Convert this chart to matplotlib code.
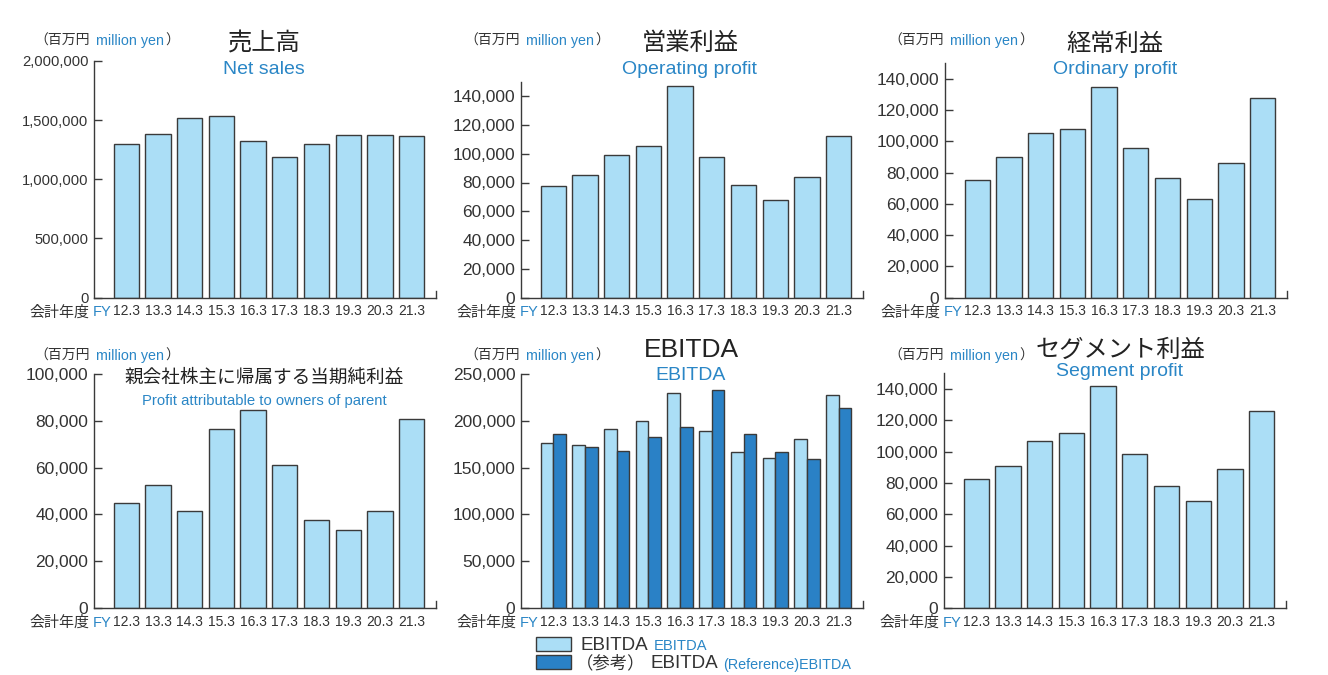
import matplotlib
matplotlib.use("Agg")
import matplotlib.pyplot as plt
from matplotlib.patches import Rectangle

W, H = 1328, 675

# ============================================================
# データ（百万円）
# ============================================================
fiscal_years = ["12.3", "13.3", "14.3", "15.3", "16.3", "17.3", "18.3", "19.3", "20.3", "21.3"]

net_sales = [1298000, 1383000, 1518000, 1532000, 1327000, 1189000, 1301000, 1377000, 1372000, 1369000]
operating_profit = [77300, 84900, 99300, 105100, 146700, 97400, 78000, 67800, 83800, 112500]
ordinary_profit = [75400, 90100, 105700, 108000, 134900, 96100, 76900, 62900, 85900, 127900]
net_income_parent = [45000, 52400, 41600, 76600, 84400, 61200, 37600, 33500, 41600, 80700]
ebitda = [176500, 174000, 191000, 199900, 229000, 189300, 166900, 160200, 180800, 227300]
ebitda_reference = [186100, 171500, 168000, 182200, 192800, 233000, 186100, 166600, 158700, 213800]
segment_profit = [82600, 90700, 106900, 111800, 141700, 98600, 78200, 68600, 88800, 125800]

net_sales_ticks = [0, 500000, 1000000, 1500000, 2000000]
profit_ticks = [0, 20000, 40000, 60000, 80000, 100000, 120000, 140000]
net_income_ticks = [0, 20000, 40000, 60000, 80000, 100000]
ebitda_ticks = [0, 50000, 100000, 150000, 200000, 250000]

# ============================================================
# スタイル
# ============================================================
JP = ["Noto Sans CJK JP", "DejaVu Sans"]
SANS = ["Liberation Sans", "DejaVu Sans"]

LIGHT = "#ABDEF6"
DARK = "#2A81C6"
BLUE = "#2A86C6"
INK = "#333333"
TITLE = "#222222"
EDGE = "#3A3A3A"


def fx(x):
    return x / W


def fy(y):
    return 1 - y / H


fig = plt.figure(figsize=(W / 100, H / 100), dpi=100)


def make_axes(left, right, zero, top, ymax, yticks, tick_size=12.5):
    ax = fig.add_axes([fx(left), fy(zero), (right - left) / W, (zero - top) / H])
    ax.patch.set_visible(False)
    ax.set_xlim(-1.02, 9.77)
    ax.set_ylim(0, ymax)
    ax.spines["top"].set_visible(False)
    ax.spines["right"].set_bounds(0, ymax * 7 / (zero - top))
    for s in ("left", "bottom", "right"):
        ax.spines[s].set_color(EDGE)
        ax.spines[s].set_linewidth(1.0)
    ax.set_yticks(yticks)
    ax.set_yticklabels([f"{v:,}" for v in yticks], fontfamily=SANS, fontsize=tick_size, color=INK)
    ax.tick_params(axis="y", direction="in", length=6, width=1.0, color=EDGE, pad=4)
    ax.set_xticks(range(len(fiscal_years)))
    ax.set_xticklabels(fiscal_years, fontfamily=SANS, fontsize=10, color=INK)
    ax.tick_params(axis="x", length=0, pad=4.5)
    return ax


def unit_label(x0, base):
    fig.text(fx(x0 + 52), fy(base), "（百万円", ha="right", va="baseline",
             fontfamily=JP, fontsize=10, color=INK)
    fig.text(fx(x0 + 58), fy(base), "million yen", ha="left", va="baseline",
             fontfamily=SANS, fontsize=10.3, color=BLUE)
    fig.text(fx(x0 + 127), fy(base), "）", ha="left", va="baseline",
             fontfamily=JP, fontsize=10, color=INK)


def fy_label(spine_left, base):
    fig.text(fx(spine_left - 5), fy(base), "会計年度", ha="right", va="baseline",
             fontfamily=JP, fontsize=10.8, color=INK)
    fig.text(fx(spine_left - 1), fy(base), "FY", ha="left", va="baseline",
             fontfamily=SANS, fontsize=10.5, color=BLUE)


def titles(cx, y_jp, y_en, jp, en, jp_size=17.5, en_size=14, jp_font=JP):
    fig.text(fx(cx), fy(y_jp), jp, ha="center", va="center", fontfamily=jp_font,
             fontsize=jp_size, color=TITLE)
    fig.text(fx(cx), fy(y_en), en, ha="center", va="center", fontfamily=SANS,
             fontsize=en_size, color=BLUE)


def single_bars(ax, values):
    ax.bar(range(len(values)), values, width=0.8, color=LIGHT, edgecolor=EDGE,
           linewidth=1.0, zorder=2)


x = list(range(len(fiscal_years)))

# 売上高
ax1 = make_axes(94, 436, 297.5, 61, 2000000, net_sales_ticks, tick_size=10.6)
single_bars(ax1, net_sales)
titles(264, 44, 70, "売上高", "Net sales")
unit_label(38, 45)
fy_label(94, 316.5)

# 営業利益
ax2 = make_axes(521, 863, 297.7, 81.7, 150000, profit_ticks)
single_bars(ax2, operating_profit)
titles(690, 43, 70, "営業利益", "Operating profit")
unit_label(468, 45)
fy_label(521, 316.5)

# 経常利益
ax3 = make_axes(945, 1287, 297.7, 63.3, 150000, profit_ticks)
single_bars(ax3, ordinary_profit)
titles(1115, 44, 70, "経常利益", "Ordinary profit")
unit_label(892, 45)
fy_label(945, 316.5)

# 親会社株主に帰属する当期純利益
ax4 = make_axes(94, 436, 608.3, 373.7, 100000, net_income_ticks)
single_bars(ax4, net_income_parent)
titles(264, 378, 400.5, "親会社株主に帰属する当期純利益", "Profit attributable to owners of parent",
       jp_size=13.4, en_size=10.7)
unit_label(38, 360)
fy_label(94, 627)

# EBITDA
ax5 = make_axes(521, 863, 608.3, 373.7, 250000, ebitda_ticks)
ax5.bar([i - 0.2 for i in x], ebitda, width=0.4, color=LIGHT, edgecolor=EDGE, linewidth=1.0, zorder=2)
ax5.bar([i + 0.2 for i in x], ebitda_reference, width=0.4, color=DARK, edgecolor=EDGE, linewidth=1.0, zorder=2)
titles(691, 350, 376, "EBITDA", "EBITDA", jp_size=19, en_size=14, jp_font=SANS)
unit_label(468, 360)
fy_label(521, 627)

# 凡例
fig.add_artist(Rectangle((fx(535.7), fy(651)), 35.3 / W, 14 / H, transform=fig.transFigure,
                         facecolor=LIGHT, edgecolor=EDGE, linewidth=1.0))
fig.add_artist(Rectangle((fx(535.7), fy(669)), 35.3 / W, 14 / H, transform=fig.transFigure,
                         facecolor=DARK, edgecolor=EDGE, linewidth=1.0))
fig.text(fx(580), fy(650.5), "EBITDA", ha="left", va="baseline", fontfamily=SANS, fontsize=13.6, color=INK)
fig.text(fx(654), fy(650.5), "EBITDA", ha="left", va="baseline", fontfamily=SANS, fontsize=10.6, color=BLUE)
fig.text(fx(576), fy(668.5), "（参考）", ha="left", va="baseline", fontfamily=JP, fontsize=12.5, color=INK)
fig.text(fx(650), fy(668.5), "EBITDA", ha="left", va="baseline", fontfamily=SANS, fontsize=13.6, color=INK)
fig.text(fx(723), fy(668.5), "(Reference)EBITDA", ha="left", va="baseline", fontfamily=SANS, fontsize=10.4, color=BLUE)

# セグメント利益
ax6 = make_axes(944, 1286, 608.3, 373.3, 150000, profit_ticks)
single_bars(ax6, segment_profit)
titles(1120, 350, 372, "セグメント利益", "Segment profit")
unit_label(892, 360)
fy_label(944, 627)

fig.savefig("out.png", dpi=100)
